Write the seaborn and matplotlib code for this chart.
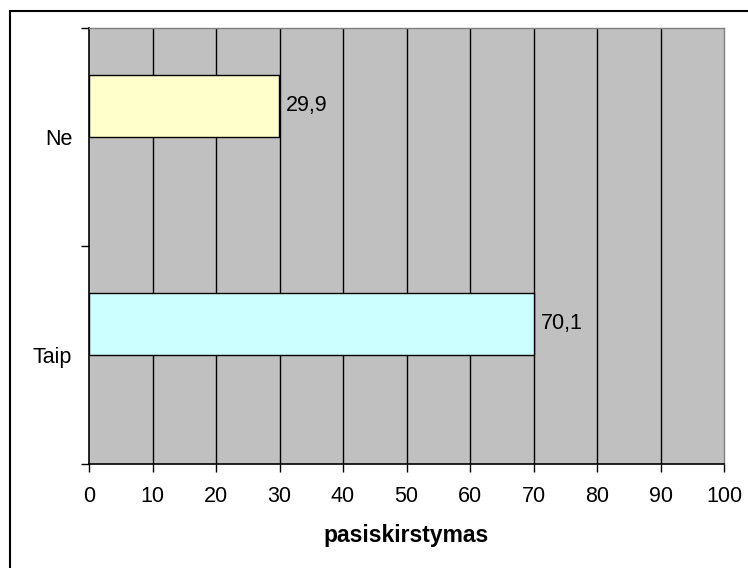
import numpy as np
import pandas as pd
import matplotlib
matplotlib.use("Agg")
import matplotlib.pyplot as plt
from matplotlib.patches import Rectangle
import seaborn as sns

# ---- data ----
categories = ["Ne", "Taip"]
values = [29.9, 70.1]
value_labels = ["29,9", "70,1"]
bar_colors = ["#FFFFCC", "#CCFFFF"]
x_ticks = [0, 10, 20, 30, 40, 50, 60, 70, 80, 90, 100]
x_label = "pasiskirstymas"

plt.rcParams["font.family"] = ["Liberation Sans", "DejaVu Sans"]

df = pd.DataFrame({
    "atsakymas": categories,
    "procentai": values,
    "serija": ["s1"] * len(categories),
})

W, H = 748, 568
fig = plt.figure(figsize=(W / 100, H / 100), dpi=100)
fig.patch.set_facecolor("white")
ax = fig.add_axes([89 / W, 1 - 464 / H, (724 - 89) / W, (464 - 28) / H])
ax.set_facecolor("#C0C0C0")

sns.barplot(
    data=df, x="procentai", y="atsakymas", hue="serija",
    hue_order=["s1", "s2"], order=categories, orient="h",
    dodge=True, width=0.57, edgecolor="black", linewidth=1.0,
    saturation=1, legend=False, ax=ax, zorder=3,
)

color_map = dict(zip(categories, bar_colors))
for p in ax.patches:
    yc = p.get_y() + p.get_height() / 2
    idx = int(round(yc))
    if 0 <= idx < len(categories):
        p.set_facecolor(color_map[categories[idx]])

for cont in ax.containers:
    if len(cont) == len(categories):
        ax.bar_label(cont, labels=value_labels, padding=5, fontsize=15.5, color="black")
        break

ax.set_xlim(0, 100)
ax.set_ylim(len(categories) - 0.5, -0.5)
ax.set_xticks(x_ticks)
ax.set_xticklabels([str(t) for t in x_ticks], fontsize=15.5)
ax.xaxis.grid(True, color="black", linewidth=1.0, zorder=1)
ax.set_axisbelow(True)
gls = ax.get_xgridlines()
gls[0].set_visible(False)
gls[-1].set_visible(False)

ax.set_yticks([i - 0.5 for i in range(len(categories) + 1)])
ax.set_yticklabels([""] * (len(categories) + 1))
ax.set_yticks(list(range(len(categories))), minor=True)
ax.set_yticklabels(categories, minor=True, fontsize=15.5)
ax.tick_params(axis="y", which="major", length=6, width=1, color="black", direction="out")
ax.tick_params(axis="y", which="minor", length=0, pad=12)
ax.tick_params(axis="x", which="major", length=6, width=1, color="black", direction="out", pad=10)

ax.set_ylabel("")
ax.set_xlabel(x_label, fontsize=16.5, fontweight="bold", labelpad=12)

for s in ["left", "bottom"]:
    ax.spines[s].set_color("black")
    ax.spines[s].set_linewidth(1.2)
for s in ["top", "right"]:
    ax.spines[s].set_color("#808080")
    ax.spines[s].set_linewidth(1.0)

fig.add_artist(Rectangle((10 / W, -0.05), 1.1, 1 - 11 / H + 0.05,
                         transform=fig.transFigure, fill=False,
                         edgecolor="black", linewidth=1.5, clip_on=False))

fig.savefig("out.png", dpi=100)
